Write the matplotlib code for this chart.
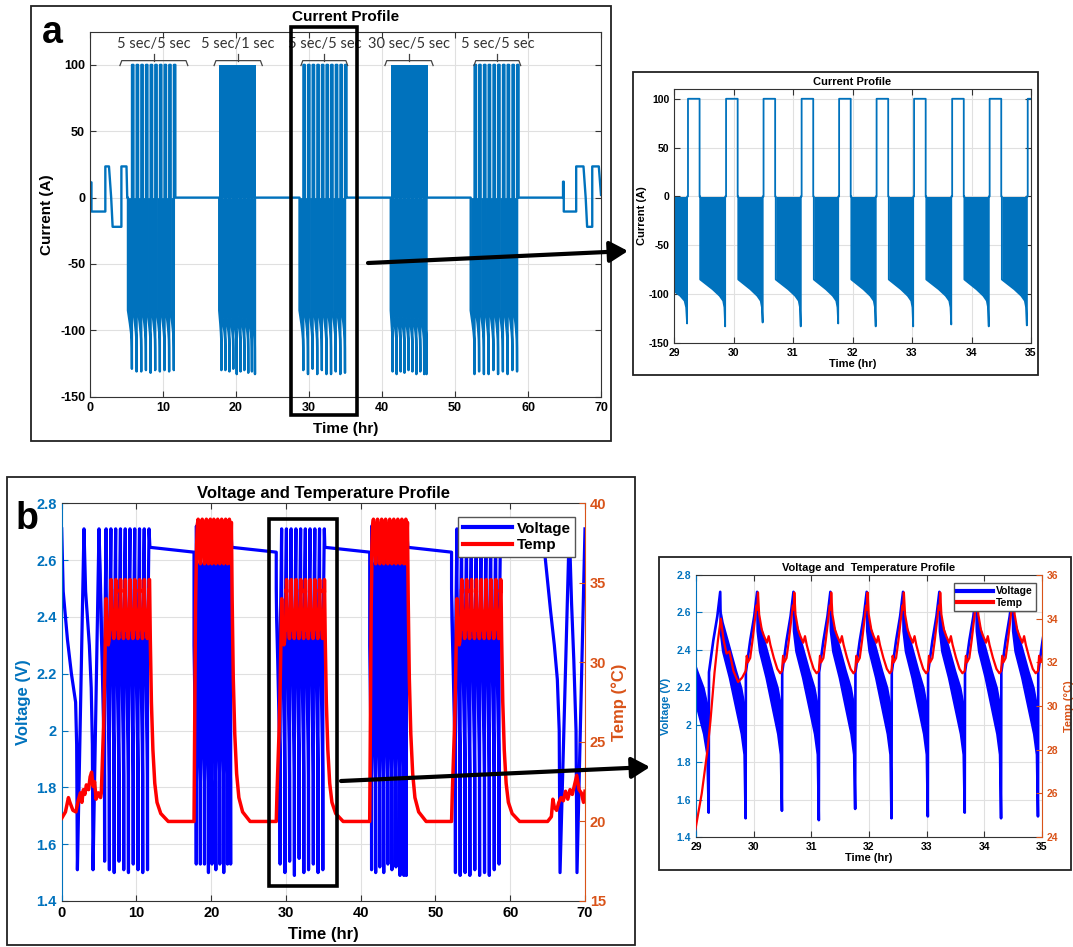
"""Current, voltage and temperature profiles of the pulse test, with 29-35 h detail views."""
import matplotlib
matplotlib.use("Agg")
import matplotlib.pyplot as plt
from matplotlib.lines import Line2D
from matplotlib.patches import Rectangle, FancyArrowPatch
from matplotlib.ticker import FuncFormatter

plt.rcParams["font.family"] = ["Liberation Sans", "DejaVu Sans"]
plt.rcParams["font.weight"] = "bold"
plt.rcParams["axes.labelweight"] = "bold"
plt.rcParams["axes.titleweight"] = "bold"
plt.rcParams["axes.unicode_minus"] = False

W, H = 1073, 947
C_CUR = "#0072BD"
C_V = "#0000FF"
C_T = "#FF0000"
C_LEFT = "#0072BD"
C_RIGHT = "#D95319"
C_GRID = "#e0e0e0"
C_SPINE = "#333333"

# --------------------------------------------------------------------------
# Pulse blocks
# --------------------------------------------------------------------------
BLOCK_LABELS = ["5 sec/5 sec", "5 sec/1 sec", "5 sec/5 sec", "30 sec/5 sec", "5 sec/5 sec"]
BLOCK_KIND = ["pulse", "dense", "pulse", "dense", "pulse"]
BLOCK_START = [5.2, 17.7, 28.7, 41.2, 52.15]
BLOCK_END = [11.75, 22.7, 35.15, 46.25, 58.75]
BRACKET_LO = [4.1, 17.0, 28.9, 40.4, 52.6]
BRACKET_HI = [13.4, 23.6, 35.3, 47.0, 59.0]

# end of each discharge (current spike / voltage trough), h
TROUGHS = [
    [5.74, 6.38, 7.02, 7.66, 8.30, 8.93, 9.57, 10.21, 10.84, 11.48],
    [18.00, 18.55, 19.10, 19.63, 20.10, 20.62, 21.15, 21.68, 22.18, 22.60],
    [29.22, 29.86, 30.49, 31.13, 31.76, 32.39, 33.02, 33.66, 34.29, 34.93],
    [41.45, 42.00, 42.55, 43.08, 43.63, 44.17, 44.71, 45.25, 45.78, 46.10],
    [52.67, 53.30, 53.96, 54.60, 55.26, 55.90, 56.56, 57.20, 57.86, 58.50],
]
I_MIN = [
    [-129, -131, -131, -130, -132, -130, -131, -130, -131, -130],
    [-130, -130, -131, -129, -133, -131, -130, -132, -131, -133],
    [-130, -133, -129, -133, -130, -133, -133, -131, -133, -132],
    [-131, -133, -131, -132, -130, -131, -133, -131, -133, -133],
    [-133, -131, -133, -133, -130, -133, -131, -133, -130, -131],
]
V_MIN = [
    [1.54, 1.51, 1.50, 1.54, 1.51, 1.50, 1.53, 1.51, 1.50, 1.51],
    [1.53, 1.53, 1.53, 1.50, 1.53, 1.51, 1.53, 1.50, 1.53, 1.53],
    [1.53, 1.50, 1.54, 1.49, 1.55, 1.50, 1.51, 1.53, 1.50, 1.51],
    [1.51, 1.50, 1.52, 1.50, 1.53, 1.51, 1.52, 1.49, 1.49, 1.49],
    [1.50, 1.49, 1.50, 1.49, 1.51, 1.49, 1.50, 1.49, 1.51, 1.53],
]

# --------------------------------------------------------------------------
# Current (A)
# --------------------------------------------------------------------------
I_START_T = [0.0, 0.2, 0.2, 2.1, 2.1, 2.6, 2.9, 3.1, 4.3, 4.3, 5.0, 5.1]
I_START = [11.5, 11.5, -10.5, -10.5, 23.5, 23.5, 0.0, -22.0, -22.0, 23.5, 23.5, 0.0]
I_END_T = [64.8, 64.8, 64.9, 64.9, 66.6, 66.6, 67.6, 67.9, 68.1, 68.8, 68.8, 69.7, 70.0]
I_END = [0.0, 12.0, 12.0, -10.5, -10.5, 23.5, 23.5, 0.0, -22.0, -22.0, 23.5, 23.5, 2.0]
I_CHARGE = 100.0
PULSE_ON, PULSE_OFF, GAP = 0.015, 0.21, 0.01
I_DIS_FRAC = [0.0, 0.5, 0.78, 0.92, 0.97]
I_DIS = [-85.0, -95.0, -101.7, -106.8, -113.5]

# --------------------------------------------------------------------------
# Voltage (V)
# --------------------------------------------------------------------------
V_START_T = [0.0, 0.2, 0.77, 1.3, 1.86, 2.0, 2.1, 2.98, 3.2, 3.7, 3.95, 4.1, 4.19, 4.99]
V_START = [2.71, 2.49, 2.32, 2.20, 2.10, 1.95, 1.51, 2.71, 2.49, 2.30, 2.15, 1.95, 1.51, 2.71]
V_END_T = [64.6, 64.9, 65.4, 65.9, 66.3, 66.55, 66.66, 67.9, 68.2, 68.5, 68.8, 68.93, 70.0]
V_END = [2.625, 2.55, 2.42, 2.30, 2.18, 2.00, 1.50, 2.71, 2.45, 2.25, 2.00, 1.50, 2.71]
V_REST = [2.645, 2.628]
V_CHG_DT = [0.005, 0.08, 0.15, 0.20]
V_CHG = [2.28, 2.45, 2.58, 2.71]
V_DIS_FRAC = [0.0, 0.1, 0.37, 0.64, 0.85, 0.96]
V_DIS_HI = [2.62, 2.55, 2.42, 2.29, 2.20, 2.12]
V_DIS_LO = [2.50, 2.39, 2.25, 2.08, 1.95, 1.84]
V_DEN_FRAC = [0.0, 0.5, 0.95]
V_DEN_HI = [2.60, 2.59, 2.57]
V_DEN_LO = [2.30, 2.05, 1.82]
V_DEN_PEAK = 2.72
DEN_SPIKE_DT = 0.02

# --------------------------------------------------------------------------
# Temperature (degC)
# --------------------------------------------------------------------------
T_REST = 20.0
T_START_T = [0.0, 0.5, 0.9, 1.1, 1.5, 1.9, 2.2, 2.5, 2.7, 2.9, 3.1, 3.3, 3.6, 3.8,
             4.0, 4.2, 4.4, 4.6, 4.9, 5.2]
T_START = [20.2, 20.6, 21.5, 21.2, 20.7, 20.6, 21.3, 21.8, 21.2, 22.0, 21.7, 22.3, 22.0,
           22.8, 23.1, 22.2, 22.5, 21.4, 21.8, 21.5]
T_END_T = [65.0, 65.5, 65.7, 65.9, 66.2, 66.5, 66.8, 67.1, 67.4, 67.7, 68.0, 68.3, 68.6,
           68.9, 69.2, 69.5, 69.8, 70.0]
T_END = [20.0, 20.3, 21.4, 20.9, 20.7, 21.2, 21.5, 21.3, 21.9, 21.4, 22.0, 21.7, 22.3,
         22.9, 22.0, 21.8, 21.2, 21.9]
T55_RAMP_DT = [0.10, 0.30, 0.40, 0.50, 0.55, 0.62, 0.68, 0.73, 0.78, 0.83, 0.88, 0.95, 1.03, 1.10]
T55_RAMP = [21.8, 24.5, 26.0, 28.0, 29.3, 31.5, 33.0, 34.0, 33.0, 32.4, 32.5, 31.6, 31.1, 31.3]
T55_DT = [0.0, 0.02, 0.04, 0.08, 0.12, 0.16, 0.19, 0.205, 0.215, 0.235, 0.28, 0.32, 0.37,
          0.40, 0.43, 0.49, 0.55, 0.60]
T55 = [31.6, 32.3, 32.0, 32.2, 33.0, 33.9, 34.6, 34.4, 35.2, 34.2, 33.5, 33.2, 32.9,
       33.2, 32.8, 32.2, 31.7, 31.5]
T55_PEAK_DT = 0.215
T51_RAMP_DT = [0.10, 0.20, 0.28]
T51_RAMP = [27.0, 33.5, 36.0]
T51_DT = [0.0, 0.05, 0.15, 0.25, 0.35, 0.45]
T51 = [36.2, 37.4, 38.7, 39.0, 38.3, 37.0]
T51_PEAK_DT = 0.06
DECAY_DT = [0.0, 0.1, 0.25, 0.45, 0.7, 1.0, 1.5, 2.5]
DECAY_55 = [35.2, 31.5, 27.5, 24.5, 22.4, 21.2, 20.5, 20.0]
DECAY_51 = [38.8, 34.0, 29.0, 25.5, 23.0, 21.5, 20.6, 20.0]


def scale(a, b, fracs):
    return [a + f * (b - a) for f in fracs]


def build_current():
    t, cur = list(I_START_T), list(I_START)
    fills, tops = [], []
    for k, kind in enumerate(BLOCK_KIND):
        a = BLOCK_START[k]
        if kind == "dense":
            tops.append((BLOCK_START[k], BLOCK_END[k]))
        for s, imin in zip(TROUGHS[k], I_MIN[k]):
            et = scale(a, s, I_DIS_FRAC) + [s]
            ei = I_DIS + [imin]
            fills.append((et, ei))
            t += [a] + et + [s]
            cur += [0.0] + ei + [0.0]
            if kind == "pulse":
                on, off = s + PULSE_ON, s + PULSE_OFF
                t += [on, on, off, off]
                cur += [0.0, I_CHARGE, I_CHARGE, 0.0]
                a = off + GAP
            else:
                a = s + GAP
        t.append(BLOCK_END[k])
        cur.append(0.0)
    t += I_END_T
    cur += I_END
    return t, cur, fills, tops


def build_voltage():
    t, v = list(V_START_T), list(V_START)
    bands = []
    for k, kind in enumerate(BLOCK_KIND):
        a = BLOCK_START[k]
        if kind == "pulse":
            fr, hi, lo = V_DIS_FRAC, V_DIS_HI, V_DIS_LO
        else:
            fr, hi, lo = V_DEN_FRAC, V_DEN_HI, V_DEN_LO
        for s, vmin in zip(TROUGHS[k], V_MIN[k]):
            bt = scale(a, s, fr)
            bands.append((bt, lo, hi))
            t += bt + [s]
            v += lo + [vmin]
            if kind == "pulse":
                t += [s + d for d in V_CHG_DT]
                v += V_CHG
                a = s + V_CHG_DT[-1] + GAP
            else:
                t.append(s + DEN_SPIKE_DT)
                v.append(V_DEN_PEAK)
                a = s + 2 * DEN_SPIKE_DT
        nxt = BLOCK_START[k + 1] if k + 1 < len(BLOCK_KIND) else V_END_T[0]
        t += [BLOCK_END[k] + 0.05, nxt]
        v += V_REST
    t += V_END_T[1:]
    v += V_END[1:]
    return t, v, bands


def build_temp():
    t, T = list(T_START_T), list(T_START)
    for k, kind in enumerate(BLOCK_KIND):
        b0 = BLOCK_START[k]
        if kind == "pulse":
            ramp_dt, ramp, cyc_dt, cyc = T55_RAMP_DT, T55_RAMP, T55_DT, T55
            peak_dt, decay, first = T55_PEAK_DT, DECAY_55, 1
        else:
            ramp_dt, ramp, cyc_dt, cyc = T51_RAMP_DT, T51_RAMP, T51_DT, T51
            peak_dt, decay, first = T51_PEAK_DT, DECAY_51, 0
        t += [b0 + d for d in ramp_dt]
        T += ramp
        cyc_tr = TROUGHS[k][first:]
        for j, s in enumerate(cyc_tr):
            limit = cyc_tr[j + 1] - s if j + 1 < len(cyc_tr) else peak_dt + 1e-6
            for d, val in zip(cyc_dt, cyc):
                if d < limit:
                    t.append(s + d)
                    T.append(val)
        t += [BLOCK_END[k] + d for d in DECAY_DT]
        T += decay
        nxt = BLOCK_START[k + 1] if k + 1 < len(BLOCK_KIND) else T_END_T[0]
        t.append(nxt)
        T.append(T_REST)
    t += T_END_T[1:]
    T += T_END[1:]
    return t, T


def px_rect(l, t, r, b):
    return [l / W, 1 - b / H, (r - l) / W, (b - t) / H]


def style(ax, fs, right=True):
    ax.grid(True, color=C_GRID, lw=0.8)
    ax.set_axisbelow(True)
    ax.tick_params(direction="in", labelsize=fs, length=4, width=0.8,
                   top=True, right=right, color=C_SPINE)
    for sp in ax.spines.values():
        sp.set_color(C_SPINE)
        sp.set_linewidth(0.8)


fmt_g = FuncFormatter(lambda x, _: f"{x:g}")

fig = plt.figure(figsize=(W / 100, H / 100), dpi=100)

t_i, cur, fills, tops = build_current()
t_v, volt, bands = build_voltage()
t_t, temp = build_temp()

# ---------------- (a) current, full test and detail ----------------
ax_a = fig.add_axes(px_rect(90, 31.7, 601, 396.7))
ax_ai = fig.add_axes(px_rect(674, 89, 1031, 343))
for ax, lw in ((ax_a, 1.7), (ax_ai, 1.3)):
    for x0, x1 in tops:
        ax.fill_between([x0, x1], 0, I_CHARGE, color=C_CUR, lw=0)
    for et, ei in fills:
        ax.fill_between(et, 0, ei, color=C_CUR, lw=0)
    ax.plot(t_i, cur, color=C_CUR, lw=lw)

style(ax_a, 9)
ax_a.set_xlim(0, 70)
ax_a.set_ylim(-150, 125)
ax_a.set_xticks(range(0, 71, 10))
ax_a.set_yticks(range(-150, 101, 50))
ax_a.set_xlabel("Time (hr)", fontsize=11, labelpad=6)
ax_a.set_ylabel("Current (A)", fontsize=11)
ax_a.set_title("Current Profile", fontsize=11, pad=8)

for lo, hi, lab in zip(BRACKET_LO, BRACKET_HI, BLOCK_LABELS):
    mid = 0.5 * (lo + hi)
    ax_a.plot([lo, lo + 0.25, hi - 0.25, hi], [99.5, 103.2, 103.2, 99.5],
              color="#444444", lw=0.9)
    ax_a.plot([mid, mid], [103.2, 108.5], color="#444444", lw=0.9)
    ax_a.text(mid, 116, lab, ha="center", va="center", fontsize=10.5,
              fontweight="normal", family=["Lato", "DejaVu Sans"], color="#333333")

style(ax_ai, 7.5)
ax_ai.set_xlim(29, 35)
ax_ai.set_ylim(-150, 110)
ax_ai.set_yticks(range(-150, 101, 50))
ax_ai.set_xlabel("Time (hr)", fontsize=8, labelpad=1)
ax_ai.set_ylabel("Current (A)", fontsize=8, labelpad=1)
ax_ai.set_title("Current Profile", fontsize=8, pad=3)

# ---------------- (b) voltage and temperature ----------------
ax_b = fig.add_axes(px_rect(61.7, 503.3, 585, 901))
ax_bi = fig.add_axes(px_rect(696, 575, 1042, 837))
twins = []
for ax, lwv, lwt in ((ax_b, 2.3, 2.5), (ax_bi, 1.9, 1.6)):
    for bt, lo, hi in bands:
        ax.fill_between(bt, lo, hi, color=C_V, lw=0)
    ax.plot(t_v, volt, color=C_V, lw=lwv)
    axt = ax.twinx()
    axt.plot(t_t, temp, color=C_T, lw=lwt)
    twins.append(axt)
ax_bt, ax_bit = twins

for ax, axt, fs, lfs in ((ax_b, ax_bt, 10.5, 12), (ax_bi, ax_bit, 7.5, 8)):
    style(ax, fs, right=False)
    axt.tick_params(direction="in", labelsize=fs, length=4, width=0.8, colors=C_RIGHT)
    ax.tick_params(axis="y", colors=C_LEFT)
    ax.spines["left"].set_color(C_LEFT)
    ax.spines["right"].set_visible(False)
    axt.spines["left"].set_visible(False)
    axt.spines["top"].set_visible(False)
    axt.spines["bottom"].set_visible(False)
    axt.spines["right"].set_color(C_RIGHT)
    axt.spines["right"].set_linewidth(0.8)
    ax.yaxis.set_major_formatter(fmt_g)
    ax.set_ylim(1.4, 2.8)
    ax.set_yticks([1.4, 1.6, 1.8, 2.0, 2.2, 2.4, 2.6, 2.8])
    ax.set_ylabel("Voltage (V)", color=C_LEFT, fontsize=lfs)
    axt.set_ylabel("Temp (\u00b0C)", color=C_RIGHT, fontsize=lfs)

ax_b.set_xlim(0, 70)
ax_b.set_xticks(range(0, 71, 10))
ax_bt.set_ylim(15, 40)
ax_bt.set_yticks(range(15, 41, 5))
ax_b.set_xlabel("Time (hr)", fontsize=12, labelpad=5)
ax_b.set_title("Voltage and Temperature Profile", fontsize=12, pad=4)

ax_bi.set_xlim(29, 35)
ax_bit.set_ylim(24, 36)
ax_bit.set_yticks(range(24, 37, 2))
ax_bi.set_xlabel("Time (hr)", fontsize=8, labelpad=1)
ax_bi.set_title("Voltage and  Temperature Profile", fontsize=8, pad=3)

leg_handles = [Line2D([], [], color=C_V, lw=3), Line2D([], [], color=C_T, lw=3)]
for axt, anchor, fs, hl in ((ax_bt, (0.981, 0.965), 11, 3.2), (ax_bit, (0.983, 0.969), 7.5, 3.5)):
    axt.legend(leg_handles, ["Voltage", "Temp"], loc="upper right", bbox_to_anchor=anchor,
               borderaxespad=0, fontsize=fs, handlelength=hl, handletextpad=0.3,
               labelspacing=0.15, borderpad=0.3, fancybox=False, framealpha=1,
               edgecolor="#555555")

# ---------------- frames, zoom boxes and arrows ----------------
ov = fig.add_axes([0, 0, 1, 1], zorder=10)
ov.set_xlim(0, W)
ov.set_ylim(H, 0)
ov.axis("off")
ov.patch.set_alpha(0)

for l, t, r, b in ((31, 6, 611, 441), (633, 72, 1038, 375),
                   (7, 477, 635, 945), (659, 557, 1071, 870)):
    ov.add_patch(Rectangle((l, t), r - l, b - t, fill=False, ec="#222222", lw=1.3))
for l, t, r, b in ((291, 26.5, 357, 415), (268.5, 519, 336.5, 886)):
    ov.add_patch(Rectangle((l, t), r - l, b - t, fill=False, ec="black", lw=2.6))
for p0, p1 in (((368, 263), (628, 251)), ((341, 781), (650, 767))):
    ov.add_patch(FancyArrowPatch(p0, p1, arrowstyle="-|>,head_length=0.55,head_width=0.32",
                                 mutation_scale=20, lw=3, color="black",
                                 shrinkA=0, shrinkB=0))

ov.text(52, 33, "a", fontsize=27, ha="center", va="center")
ov.text(27, 519, "b", fontsize=27, ha="center", va="center")

fig.savefig("out.png", dpi=100)
